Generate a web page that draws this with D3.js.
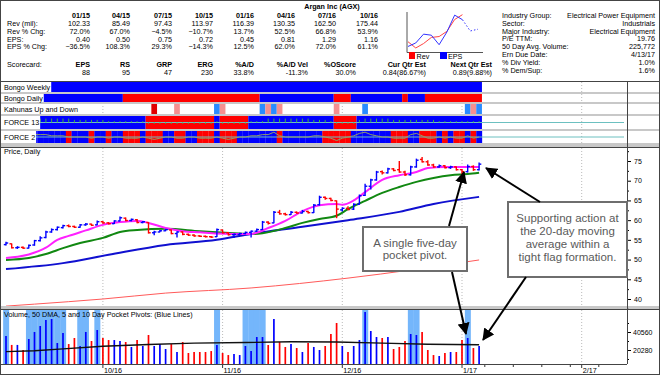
<!DOCTYPE html>
<html>
<head>
<meta charset="utf-8">
<script src="https://cdn.jsdelivr.net/npm/d3@7"></script>
<style>
  body { margin: 0; background: #fff; }
  svg text { font-family: "Liberation Sans", Arial, sans-serif; }
</style>
</head>
<body>
<div id="chart"></div>
<script>
// ---- header table ----
const quarters = ["01/15", "04/15", "07/15", "10/15", "01/16", "04/16", "07/16", "10/16"];
const revenue = [102.33, 85.49, 97.43, 113.97, 116.39, 130.35, 162.50, 175.44];
const revChg = [72.0, 67.0, -4.5, -10.7, 13.7, 52.5, 66.8, 53.9];
const eps = [0.40, 0.50, 0.75, 0.72, 0.45, 0.81, 1.29, 1.16];
const epsChg = [-36.5, 108.3, 29.3, -14.3, 12.5, 62.0, 72.0, 61.1];
const epsEst = [0.84, 0.89];
const scoreNames = ["EPS", "RS", "GRP", "ERG", "%A/D", "%A/D Vel", "%OScore", "Cur Qtr Est", "Next Qtr Est"];
const scoreValues = ["88", "95", "47", "230", "33.8%", "-11.3%", "30.0%", "0.84(86.67%)", "0.89(9.88%)"];
const infoLabels = ["Industry Group:", "Sector:", "Major Industry:", "P/E TTM:", "50 Day Avg. Volume:", "Ern Due Date:", "% Div Yield:", "% Dem/Sup:"];
const infoValues = ["Electrical Power Equipment", "Industrials", "Electrical Equipment", "19.76", "225,772", "4/13/17", "1.0%", "1.6%"];

// ---- daily prices (bar index 0..83) ----
const open = [53.8,54.0,53.0,53.1,52.9,53.7,54.8,55.6,57.0,57.6, 58.1,58.6,58.4,58.2,58.8,59.0,58.8,59.6,59.3,59.1,
  59.8,60.5,59.9,60.1,59.4,59.4,56.8,57.0,57.3,57.5, 56.6,57.0,56.4,56.2,56.0,55.9,55.8,55.8,57.5,56.8,
  56.3,56.4,56.6,56.9,57.2,57.6,59.5,59.3,62.0,61.6, 61.4,62.0,61.8,62.2,61.9,63.9,65.8,65.5,64.9,62.6,
  63.0,62.8,64.0,66.3,68.6,70.2,72.3,72.0,73.0,72.8, 72.2,71.5,73.5,75.4,74.8,74.0,73.5,73.8,73.3,73.5,
  72.8,72.3,73.6,72.8];
const high = [54.5,54.1,53.4,53.3,53.8,55.0,55.9,57.3,57.9,58.4, 58.8,58.9,58.6,59.0,59.3,59.1,59.9,59.8,59.5,60.0,
  60.9,60.7,60.4,60.3,59.8,59.5,57.3,57.5,57.8,57.6, 57.2,57.1,56.6,56.4,56.2,56.1,56.0,57.9,57.6,57.0,
  56.6,56.8,57.1,57.4,57.9,59.8,59.7,62.3,62.6,61.9, 62.3,62.2,62.6,62.4,64.1,66.2,66.0,65.7,65.0,63.3,
  63.5,64.3,66.5,69.2,70.5,72.5,72.6,73.3,73.2,75.0, 72.5,73.8,75.6,76.0,75.2,74.3,74.1,74.0,73.8,73.6,
  73.0,74.1,73.9,74.6];
const low = [53.6,52.8,52.7,52.7,52.8,53.5,54.6,55.4,56.8,57.4, 57.9,58.2,58.0,58.1,58.6,58.5,58.7,59.1,58.9,59.0,
  59.7,59.7,59.7,59.2,59.2,56.6,56.2,56.9,57.2,56.4, 55.6,56.2,56.0,55.8,55.7,55.6,55.5,55.7,56.6,56.1,
  55.5,56.2,56.4,55.6,57.0,57.5,58.9,59.2,61.4,61.2, 61.3,61.6,61.7,61.7,61.8,63.7,65.2,64.8,60.5,62.2,
  62.5,62.6,63.9,66.1,67.8,70.0,71.6,71.8,72.4,72.0, 71.2,71.3,73.3,74.6,73.8,73.3,73.3,73.1,73.0,72.6,
  71.6,72.1,72.5,72.6];
const close = [54.2,53.0,53.1,52.9,53.6,54.8,55.5,57.0,57.6,58.2, 58.6,58.4,58.2,58.8,59.0,58.7,59.6,59.3,59.1,59.8,
  60.6,59.9,60.2,59.4,59.6,56.8,57.0,57.3,57.6,56.6, 57.0,56.4,56.2,56.0,55.9,55.8,55.7,57.6,56.8,56.3,
  56.4,56.6,56.9,57.2,57.6,59.5,59.2,62.0,61.6,61.4, 62.0,61.8,62.2,61.9,63.8,65.8,65.5,65.0,62.8,63.0,
  62.7,64.0,66.2,68.6,70.2,72.2,72.0,73.0,72.6,72.2, 71.5,73.5,75.2,74.8,74.0,73.5,73.8,73.3,73.5,72.8,
  72.3,73.6,72.8,74.2];
const volume = [36000,26000,26000,20300,32700,40600,47300,54100,55200,28200, 39400,27000,33800,24800,40600,30400,42800,33800,31500,31500,
  30400,29300,23700,31500,24800,37200,24800,27000,21400,27000, 18000,29300,16900,18000,18000,18000,19100,25900,16900,14600,
  15800,14600,24800,19200,34900,34900,25900,55200,29300,23700, 27000,22500,18000,28200,23700,20300,24800,38300,50700,24800,
  18000,24800,31500,63100,41700,34900,33800,34900,21400,23700, 30400,38300,37200,40600,20300,14600,13500,16900,18000,18000,
  31500,33800,22500,24800];
const pocketPivots = [0,4,5,6,7,8,9,10,13,14,16,37,42,43,44,45,63,71,72,81];

// moving averages: [bar index, value]
const ma10 = [[0,50.4],[4,51.3],[7,53.0],[9,55.0],[11,56.0],[14,57.4],[17,58.8],[20,59.5],[23,59.8],[25,59.3],[28,58.0],[31,57.2],
  [34,56.9],[37,56.6],[40,56.5],[43,56.5],[46,58.0],[49,59.8],[52,62.3],[55,63.8],[58,64.1],[59,63.9],[61,65.0],[63,67.1],[66,70.2],
  [69,71.4],[72,72.2],[74,73.2],[77,73.5],[80,73.5],[83,73.5]];
const ma21 = [[0,49.9],[4,50.4],[7,51.4],[10,52.9],[13,54.2],[17,55.5],[20,57.0],[23,57.5],[28,57.8],[34,57.2],[40,56.7],[43,56.5],
  [45,56.7],[49,58.0],[52,59.3],[55,60.3],[58,61.1],[60,62.8],[63,64.9],[66,66.9],[69,68.4],[72,69.7],[75,70.7],[78,71.4],[81,71.7],[83,72.0]];
const ma50 = [[0,47.6],[10,49.1],[18,51.2],[28,53.7],[37,55.0],[43,56.5],[52,58.3],[60,60.0],[69,62.1],[75,64.1],[83,65.9]];
const ma200 = [[0,38.2],[5,38.7],[17,40.0],[28,41.5],[43,42.8],[60,45.3],[83,49.9]];
const volAvg = [[0,18500],[5,19500],[10,21500],[17,24500],[25,26500],[33,28000],[42,28700],[50,29500],[58,29300],[66,28000],[74,26800],[83,26200]];

// indicator bands: runs of [start index, state]
const bongoWeekly = [[0,"B"]];
const bongoDaily = [[0,"B"],[21,"R"],[45,"B"],[58,"R"],[61,"B"],[70,"R"],[71,"B"],[74,"R"]];
const force13Runs = [[0,"B"],[25,"R"],[37,"B"],[38,"R"],[43,"B"],[58,"R"],[62,"B"]];
const force2Red = [2,11,15,18,21,22,23,25,26,27,30,31,34,35,36,38,39,40,48,56,57,58,59,60,68,69,70,73,74,75,77,79,80,82];
const kahunas = [[26,"R"],[30,"P"],[37,"L"],[38,"P"],[45,"L"],[46,"P"],[47,"L"],[48,"P"],[58,"P"],[63,"L"],[81,"L"],[82,"P"],[83,"L"]];
const force13 = [4,4,4,4,4,3,3,3,3,3, 3,3,2,2,2,2,2,2,1,1, 1,1,1,1,1,-1,-1,-1,-1,-1, -1,-1,-1,-1,-1,-1,-1,1,-1,-1,
  -1,-1,-1,1,1,1,3,3,3,3, 3,3,3,3,2,2,2,1,-1,-1, -1,-1,2,3,3,3,3,3,2,2, 2,2,2,2,2,2,1,1,1,1, 1,1,1,1];
const force2 = [0,0,0,1,1,2,2,2,1,1, 1,0,0,0,0,-1,0,0,-1,0, 0,-1,-1,-1,0,-1,-2,-1,0,0, -1,-1,0,0,-1,-1,-1,0,-1,-2,
  -1,0,0,1,1,2,2,4,1,0, 0,0,0,0,1,1,0,-1,-3,-1, 0,1,3,4,2,1,0,0,-1,-1, -1,2,3,1,-1,-1,0,-1,0,-1, -1,1,-1,0];

const monthIdx = [17, 38, 59, 80, 101];
const monthLabels = ["10/16", "11/16", "12/16", "1/17", "2/17"];
const weekTicks = [84, 89, 94, 99, 104];
const priceTicks = [40, 45, 50, 55, 60, 65, 70, 75];
const volTicks = [20280, 40560];

const W = 660, H = 375;
const BLUE = "#0000ff", RED = "#ff0000";
const FS = 7.2;
const svg = d3.select("#chart").append("svg").attr("width", W).attr("height", H);

svg.append("defs").append("marker")
  .attr("id", "arr").attr("markerUnits", "userSpaceOnUse")
  .attr("markerWidth", 12).attr("markerHeight", 12).attr("refX", 11).attr("refY", 6).attr("orient", "auto")
  .append("path").attr("d", "M0,0 L12,6 L0,12 z").attr("fill", "#000");

const x = d3.scaleLinear().domain([0, 83]).range([6, 479.1]);
const yP = d3.scaleLinear().domain([40, 75]).range([299, 161]);
const yV = d3.scaleLinear().domain([0, 40560]).range([368, 332]);
const AXR = 627;

// ---- header ----
const hdr = svg.append("g").attr("font-size", FS).attr("fill", "#000");
hdr.append("text").attr("x", 332).attr("y", 8.5).attr("text-anchor", "middle").attr("font-weight", "bold").text("Argan Inc (AGX)");
const qRight = [90, 130, 172, 213, 254, 295, 336, 378];
const rowNames = ["Rev (mil):", "Rev % Chg:", "EPS:", "EPS % Chg:"];
const rowBase = [26, 33.8, 41.6, 49.4];
const f2 = d3.format(".2f"), f1 = d3.format(".1f");
const rowData = [revenue.map(f2), revChg.map(d => f1(d) + "%"), eps.map(f2), epsChg.map(d => f1(d) + "%")];
quarters.forEach((q, i) => hdr.append("text").attr("x", qRight[i]).attr("y", 18).attr("text-anchor", "end").attr("font-weight", "bold").text(q));
rowNames.forEach((n, r) => {
  hdr.append("text").attr("x", 7).attr("y", rowBase[r]).text(n);
  rowData[r].forEach((v, i) => hdr.append("text").attr("x", qRight[i]).attr("y", rowBase[r]).attr("text-anchor", "end").text(v));
});
hdr.append("text").attr("x", 7).attr("y", 67).text("Scorecard:");
const sRight = [90, 130, 172, 213, 254, 308, 356, 426, 492];
scoreNames.forEach((n, i) => {
  hdr.append("text").attr("x", sRight[i]).attr("y", 67).attr("text-anchor", "end").attr("font-weight", "bold").text(n);
  hdr.append("text").attr("x", sRight[i]).attr("y", 74.8).attr("text-anchor", "end").text(scoreValues[i]);
});
infoLabels.forEach((n, i) => {
  hdr.append("text").attr("x", 502).attr("y", 18 + i * 7.8).text(n);
  hdr.append("text").attr("x", 655).attr("y", 18 + i * 7.8).attr("text-anchor", "end").text(infoValues[i]);
});

// mini rev / eps chart
const mx = d3.scaleLinear().domain([0, 9]).range([408, 478]);
const myRev = d3.scaleLinear().domain([80, 180]).range([50, 13]);
const myEps = d3.scaleLinear().domain([0.3, 1.35]).range([50, 13]);
const mini = svg.append("g");
mini.append("path").attr("d", "M407,12V52.5H483").attr("fill", "none").attr("stroke", "#555");
mini.append("path").attr("fill", "none").attr("stroke", "#f44").attr("stroke-width", 1)
  .attr("d", d3.line().x((d, i) => mx(i)).y(d => myRev(d))(revenue));
mini.append("path").attr("fill", "none").attr("stroke", "#33f").attr("stroke-width", 1)
  .attr("d", d3.line().x((d, i) => mx(i)).y(d => myEps(d))(eps));
mini.append("path").attr("fill", "none").attr("stroke", "#33f").attr("stroke-dasharray", "1.5,2")
  .attr("d", d3.line().x((d, i) => mx(i + 7)).y(d => myEps(d))([eps[7]].concat(epsEst)));
mini.append("rect").attr("x", 409).attr("y", 52).attr("width", 6).attr("height", 7).attr("fill", RED);
mini.append("text").attr("x", 416.5).attr("y", 59).attr("font-size", FS).text("Rev");
mini.append("rect").attr("x", 440).attr("y", 52).attr("width", 7).attr("height", 7).attr("fill", BLUE);
mini.append("text").attr("x", 448).attr("y", 59).attr("font-size", FS).text("EPS");

// ---- gridlines ----
svg.append("g").selectAll("line").data(monthIdx).join("line")
  .attr("x1", d => x(d)).attr("x2", d => x(d)).attr("y1", 82).attr("y2", 364)
  .attr("stroke", "#bbb").attr("stroke-dasharray", "1,2");

// ---- indicator bands ----
const rows = [
  { name: "Bongo Weekly", y0: 82, y1: 92 },
  { name: "Bongo Daily", y0: 94, y1: 102 },
  { name: "Kahunas Up and Down", y0: 104, y1: 114 },
  { name: "FORCE 13", y0: 116, y1: 129 },
  { name: "FORCE 2", y0: 131, y1: 143 }
];
const seps = [[92, 94], [102, 104], [114, 116], [129, 131], [143, 147], [306, 309]];
svg.append("g").selectAll("rect").data(seps).join("rect")
  .attr("x", 0).attr("width", W).attr("y", d => d[0]).attr("height", d => d[1] - d[0]).attr("fill", "#c8c8c8");

const stateCol = { B: BLUE, R: RED, P: "#f59090", L: "#2a8cff" };
function runsToCells(runs) {
  return runs.map((r, k) => ({ s: r[0], e: k < runs.length - 1 ? runs[k + 1][0] - 1 : 83, c: r[1] }));
}
function drawRuns(runs, row) {
  svg.append("g").selectAll("rect").data(runsToCells(runs)).join("rect")
    .attr("x", d => x(d.s - 0.5)).attr("width", d => x(d.e + 0.5) - x(d.s - 0.5))
    .attr("y", row.y0).attr("height", row.y1 - row.y0).attr("fill", d => stateCol[d.c]);
}
drawRuns(bongoWeekly, rows[0]);
drawRuns(bongoDaily, rows[1]);
svg.append("g").selectAll("rect").data(kahunas).join("rect")
  .attr("x", d => x(d[0] - 0.5)).attr("width", x(1) - x(0))
  .attr("y", rows[2].y0).attr("height", rows[2].y1 - rows[2].y0).attr("fill", d => d[1] === "R" ? "#e00000" : stateCol[d[1]]);
drawRuns(force13Runs, rows[3]);
svg.append("g").selectAll("rect").data(d3.range(84)).join("rect")
  .attr("x", d => x(d - 0.5)).attr("width", x(1) - x(0) + 0.2)
  .attr("y", rows[4].y0).attr("height", rows[4].y1 - rows[4].y0)
  .attr("fill", d => force2Red.includes(d) ? RED : BLUE);

// force 13 / force 2 detail
const mid13 = (rows[3].y0 + rows[3].y1) / 2, mid2 = (rows[4].y0 + rows[4].y1) / 2;
[mid13, mid2].forEach(m => svg.append("line").attr("x1", 3).attr("x2", 624).attr("y1", m).attr("y2", m)
  .attr("stroke", "#6cc0c0").attr("stroke-width", 1));
const y13 = d3.scaleLinear().domain([-5, 5]).range([rows[3].y1, rows[3].y0]);
svg.append("g").selectAll("line").data(force13).join("line")
  .attr("x1", (d, i) => x(i)).attr("x2", (d, i) => x(i))
  .attr("y1", y13(0)).attr("y2", d => y13(d)).attr("stroke", "#3cb043").attr("stroke-width", 1);
const y2 = d3.scaleLinear().domain([-5, 5]).range([rows[4].y1, rows[4].y0]);
svg.append("path").attr("fill", "none").attr("stroke", "#8f9f68").attr("stroke-width", 1)
  .attr("d", d3.line().x((d, i) => x(i)).y(d => y2(d))(force2));

// band labels
rows.forEach(r => {
  const g = svg.append("g");
  const t = g.append("text").attr("x", 4).attr("y", (r.y0 + r.y1) / 2 + 2.6).attr("font-size", FS).text(r.name);
  const w = t.node().getComputedTextLength();
  g.insert("rect", "text").attr("x", 3).attr("y", r.y0).attr("width", w + 2).attr("height", r.y1 - r.y0).attr("fill", "#fff");
});

// ---- price panel ----
svg.append("text").attr("x", 4).attr("y", 154).attr("font-size", FS).text("Price, Daily");
svg.append("clipPath").attr("id", "pclip").append("rect").attr("x", 0).attr("y", 147).attr("width", AXR).attr("height", 159);
const pg = svg.append("g").attr("clip-path", "url(#pclip)");
const maLine = d3.line().curve(d3.curveMonotoneX).x(d => x(d[0])).y(d => yP(d[1]));
[[ma200, "#ff5a5a", 1], [ma50, "#1010d0", 2], [ma21, "#118811", 2], [ma10, "#ff20ff", 2]].forEach(m =>
  pg.append("path").attr("d", maLine(m[0])).attr("fill", "none").attr("stroke", m[1]).attr("stroke-width", m[2]));

const upCol = i => (i === 0 || close[i] >= close[i - 1]) ? BLUE : RED;
const bars = pg.append("g").selectAll("g").data(d3.range(84)).join("g").attr("stroke", upCol).attr("stroke-width", 1.4);
bars.append("line").attr("x1", i => x(i)).attr("x2", i => x(i)).attr("y1", i => yP(high[i])).attr("y2", i => yP(low[i]));
bars.append("line").attr("x1", i => x(i) - 2.2).attr("x2", i => x(i)).attr("y1", i => yP(open[i])).attr("y2", i => yP(open[i]));
bars.append("line").attr("x1", i => x(i)).attr("x2", i => x(i) + 2.2).attr("y1", i => yP(close[i])).attr("y2", i => yP(close[i]));

// ---- volume panel ----
svg.append("g").selectAll("rect").data(pocketPivots).join("rect")
  .attr("x", d => x(d - 0.5)).attr("width", x(1) - x(0) + 0.3).attr("y", 309).attr("height", 55).attr("fill", "#74b6fb");
svg.append("text").attr("x", 4).attr("y", 317).attr("font-size", FS).text("Volume, 50 DMA, 5 and 10 Day Pocket Pivots: (Blue Lines)");
svg.append("g").selectAll("line").data(volume).join("line")
  .attr("x1", (d, i) => x(i)).attr("x2", (d, i) => x(i)).attr("y1", 364).attr("y2", d => yV(d))
  .attr("stroke", (d, i) => upCol(i)).attr("stroke-width", 1.7);
svg.append("path").attr("fill", "none").attr("stroke", "#111").attr("stroke-width", 1.4)
  .attr("d", d3.line().x(d => x(d[0])).y(d => yV(d[1]))(volAvg));

// ---- axes ----
const ax = svg.append("g");
ax.append("g").attr("transform", `translate(${AXR},0)`)
  .call(d3.axisRight(yP).tickValues(priceTicks).tickSize(4).tickPadding(3).tickFormat(d3.format("d")))
  .call(g => g.select(".domain").remove());
ax.append("g").attr("transform", `translate(${AXR},0)`)
  .call(d3.axisRight(yP).tickValues(d3.range(37.5, 80, 2.5).filter(v => v % 5 !== 0)).tickSize(2).tickFormat(""))
  .call(g => g.select(".domain").remove());
ax.append("g").attr("transform", `translate(${AXR},0)`)
  .call(d3.axisRight(yV).tickValues(volTicks).tickSize(4).tickPadding(2).tickFormat(d3.format("d")))
  .call(g => g.select(".domain").remove());
ax.append("g").attr("transform", `translate(${AXR},0)`)
  .call(d3.axisRight(yV).tickValues([10140, 30420, 50700]).tickSize(2).tickFormat(""))
  .call(g => g.select(".domain").remove());
ax.selectAll("text").attr("font-family", "Liberation Sans, Arial, sans-serif").attr("font-size", 7).attr("fill", "#000");

const xb = svg.append("g").attr("font-size", FS);
xb.selectAll("line.m").data(monthIdx).join("line").attr("class", "m")
  .attr("x1", d => x(d)).attr("x2", d => x(d)).attr("y1", 364).attr("y2", 368).attr("stroke", "#333");
xb.selectAll("line.w").data(weekTicks).join("line").attr("class", "w")
  .attr("x1", d => x(d)).attr("x2", d => x(d)).attr("y1", 364).attr("y2", 367).attr("stroke", "#333");
xb.selectAll("text").data(monthIdx).join("text")
  .attr("x", d => x(d) + 1).attr("y", 372.5).text((d, i) => monthLabels[i]);

// ---- frames ----
const fr = svg.append("g").attr("fill", "none").attr("stroke", "#444");
fr.append("rect").attr("x", 0.5).attr("y", 0.5).attr("width", W - 1).attr("height", H - 1);
fr.append("line").attr("x1", 0).attr("x2", W).attr("y1", 81.5).attr("y2", 81.5);
fr.append("line").attr("x1", AXR + 0.5).attr("x2", AXR + 0.5).attr("y1", 82).attr("y2", 364);
fr.append("line").attr("x1", 0).attr("x2", W).attr("y1", 147.5).attr("y2", 147.5);
fr.append("line").attr("x1", 0).attr("x2", W).attr("y1", 309.5).attr("y2", 309.5);
fr.append("line").attr("x1", 0).attr("x2", AXR).attr("y1", 364.5).attr("y2", 364.5);

// ---- annotations ----
const notes = [
  { x: 363, y: 227, w: 104, h: 44, lines: ["A single five-day", "pocket pivot."], base: 247, step: 12 },
  { x: 508, y: 202, w: 119, h: 75, lines: ["Supporting action at", "the 20-day moving", "average within a", "tight flag formation."], base: 222, step: 13 }
];
notes.forEach(n => {
  svg.append("rect").attr("x", n.x).attr("y", n.y).attr("width", n.w).attr("height", n.h)
    .attr("fill", "#fff").attr("stroke", "#6e6e6e").attr("stroke-width", 2);
  n.lines.forEach((l, k) => svg.append("text").attr("x", n.x + n.w / 2).attr("y", n.base + k * n.step)
    .attr("text-anchor", "middle").attr("font-size", 11.5).attr("fill", "#5a5a5a").text(l));
});
const arrows = [[449, 226, 464, 172], [452, 272, 466, 334], [540, 202, 486, 168], [526, 277, 483, 340]];
svg.append("g").selectAll("line").data(arrows).join("line")
  .attr("x1", d => d[0]).attr("y1", d => d[1]).attr("x2", d => d[2]).attr("y2", d => d[3])
  .attr("stroke", "#000").attr("stroke-width", 2).attr("marker-end", "url(#arr)");
</script>
</body>
</html>
